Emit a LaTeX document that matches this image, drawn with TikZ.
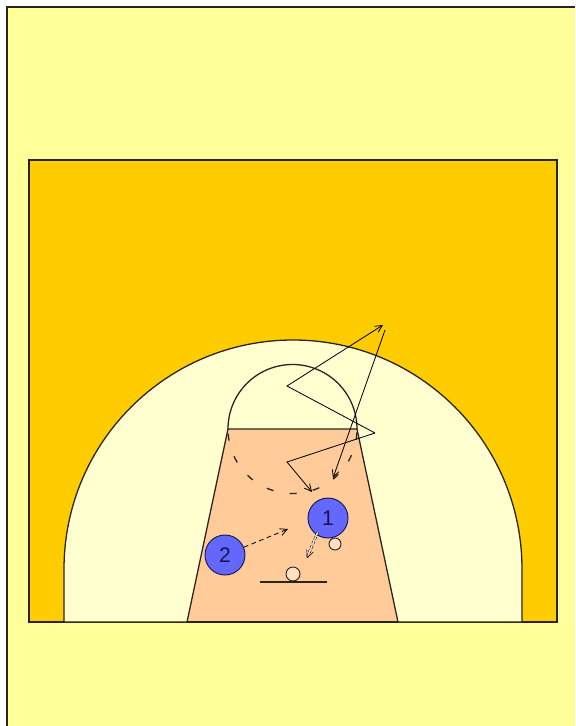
\documentclass[tikz,border=0pt]{standalone}
\usepackage{fontspec}
\setsansfont{Liberation Sans}
\usetikzlibrary{arrows.meta, positioning}
\definecolor{bgyellow}{RGB}{255,255,153}
\definecolor{courtorange}{RGB}{255,204,0}
\definecolor{arccream}{RGB}{255,255,208}
\definecolor{keypeach}{RGB}{255,204,153}
\definecolor{playerblue}{RGB}{100,104,250}
\definecolor{mynavy}{RGB}{20,20,90}
\definecolor{courtline}{RGB}{45,35,30}
\tikzset{
  courtedge/.style={draw=courtline, line width=1.1pt},
  player/.style={circle, draw=mynavy, fill=playerblue, minimum size=1.2cm,
    inner sep=0pt, font=\sffamily\fontsize{18}{18}\selectfont, text=mynavy,
    line width=0.8pt},
  ball/.style={circle, draw=courtline, fill=keypeach!60!white, minimum size=0.36cm,
    inner sep=0pt, line width=0.8pt},
  move/.style={-{Straight Barb[length=6pt, width=6pt]}, line width=0.7pt, black},
  pass/.style={move, dash pattern=on 4pt off 3pt},
  handoff/.style={move, double, double distance=1.2pt, line width=0.5pt,
    dash pattern=on 2.5pt off 1.5pt}
}

\begin{document}
\begin{tikzpicture}[x=0.03cm, y=-0.03cm]
  \useasboundingbox (0,0) rectangle (575,726);
  % Page
  \fill[white] (0,0) rectangle (575,726);
  \fill[bgyellow] (7,7) rectangle (575,726);
  \draw[courtline, line width=1.6pt] (7,726) -- (7,7) -- (575,7);

  % Half court
  \draw[courtedge, fill=courtorange] (29,160) rectangle (557,622);
  % Three-point area
  \draw[courtedge, fill=arccream] (64,622) -- (64,569) arc (180:360:229) -- (522,622) -- cycle;
  % Key
  \draw[courtedge, fill=keypeach] (187,622) -- (228,429) -- (357,429) -- (398,622);
  \draw[courtedge] (187,622) -- (398,622);
  % Free throw circle
  \draw[courtedge] (228,429) arc (180:360:64.5);
  \draw[courtedge, dash pattern=on 6pt off 14pt, dash phase=-4pt] (228,429) arc (180:0:64.5);

  % Basket
  \draw[courtedge] (260,582) -- (327,582);
  \node[ball, minimum size=0.42cm] (rim) at (293,574) {};

  % Players and ball
  \node[player] (p1) at (328,518) {1};
  \node[player] (p2) at (225,555) {2};
  \node[ball] (b1) at (335,544) {};

  % Cuts
  \coordinate (turn) at (375,433);
  \coordinate (low) at (287,462);
  \coordinate (lowend) at (312,492);
  \coordinate (high) at (287,386);
  \coordinate (top) at (383,325);
  \coordinate (topstart) at (385,330);
  \coordinate (downend) at (333,478);
  \draw[move] (turn) -- (low) -- (lowend);
  \draw[move] (turn) -- (high) -- (top);
  \draw[move] (topstart) -- (downend);

  % Pass and hand-off
  \coordinate (passend) at (288,529);
  \draw[pass] (p2) -- (passend);
  \coordinate (hoend) at (307,558);
  \draw[handoff] (p1.south west) ++(4,0) -- (hoend);
\end{tikzpicture}
\end{document}
